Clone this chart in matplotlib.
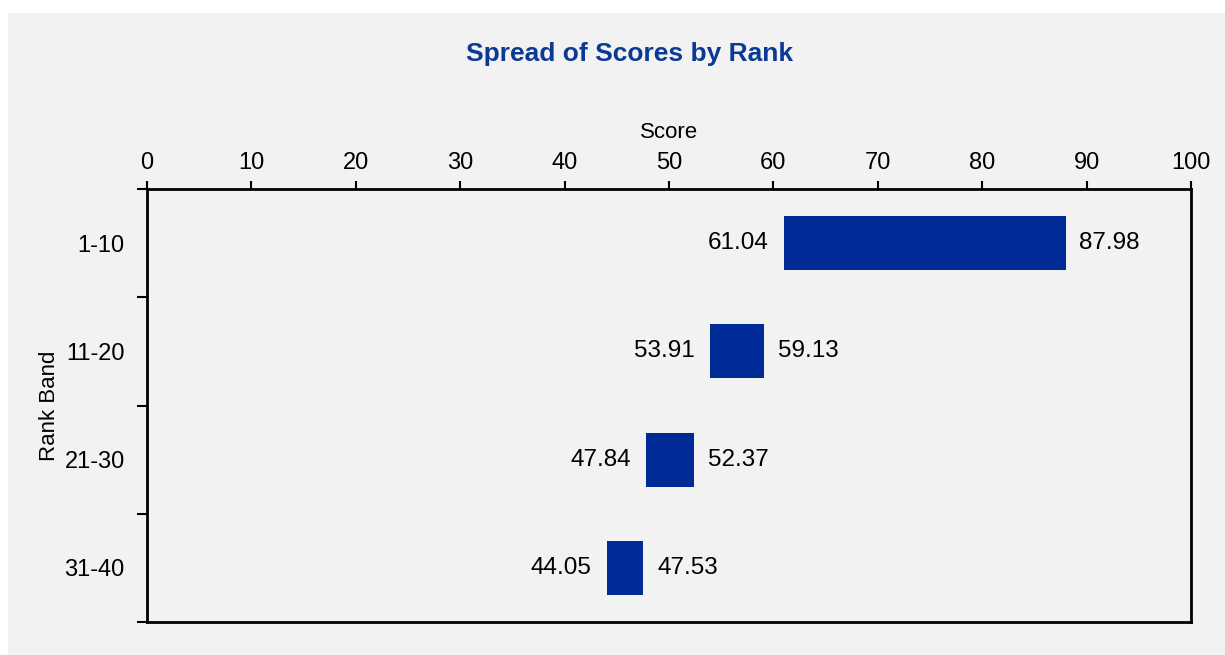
import matplotlib
matplotlib.use("Agg")
import matplotlib.pyplot as plt
from matplotlib.patches import Rectangle
from matplotlib.ticker import FixedLocator

plt.rcParams['font.family'] = ['Liberation Sans', 'DejaVu Sans']

# Score range (low / high) for each rank band
bands = ["1-10", "11-20", "21-30", "31-40"]
low_scores = [61.04, 53.91, 47.84, 44.05]
high_scores = [87.98, 59.13, 52.37, 47.53]
score_ticks = [0, 10, 20, 30, 40, 50, 60, 70, 80, 90, 100]

bar_color = '#002a96'
title_color = '#0a3a94'
panel_color = '#f2f2f2'

fig = plt.figure(figsize=(12.25, 6.55), dpi=100)
fig.patch.set_facecolor('white')

# light grey panel behind the whole chart
fig.patches.append(Rectangle((8 / 1225, 0), 1 - 8 / 1225, 1 - 13 / 655,
                             transform=fig.transFigure, facecolor=panel_color,
                             edgecolor='none', zorder=-10))

ax = fig.add_axes([147 / 1225, 33 / 655, 1044 / 1225, 433 / 655])
ax.set_facecolor(panel_color)

ypos = list(range(len(bands)))
widths = [h - l for l, h in zip(low_scores, high_scores)]
ax.barh(ypos, widths, left=low_scores, height=0.5, color=bar_color)

for y, lo, hi in zip(ypos, low_scores, high_scores):
    ax.annotate(f"{lo:.2f}", (lo, y), xytext=(-11, 0), textcoords='offset points',
                ha='right', va='center', fontsize=17.5)
    ax.annotate(f"{hi:.2f}", (hi, y), xytext=(10, 0), textcoords='offset points',
                ha='left', va='center', fontsize=17.5)

ax.set_xlim(0, 100)
ax.set_ylim(len(bands) - 0.5, -0.5)

# x axis on top
ax.xaxis.tick_top()
ax.xaxis.set_label_position('top')
ax.set_xticks(score_ticks)
ax.set_xticklabels([str(t) for t in score_ticks])
ax.set_xlabel("Score", fontsize=16, labelpad=10)
ax.tick_params(axis='x', which='major', length=6, width=1.5, labelsize=17, pad=5)

# band labels centred, ticks on the band boundaries
ax.set_yticks(ypos)
ax.set_yticklabels(bands)
ax.yaxis.set_minor_locator(FixedLocator([i - 0.5 for i in range(len(bands) + 1)]))
ax.tick_params(axis='y', which='major', length=0, labelsize=17, pad=16)
ax.tick_params(axis='y', which='minor', length=7, width=1.5)
ax.set_ylabel("Rank Band", fontsize=16, labelpad=3)

for s in ax.spines.values():
    s.set_linewidth(2)

fig.text(630 / 1225, 1 - 54 / 655, "Spread of Scores by Rank", ha='center', va='center',
         fontsize=19, fontweight='bold', color=title_color)

fig.savefig("out.png", dpi=100, facecolor=fig.get_facecolor())
